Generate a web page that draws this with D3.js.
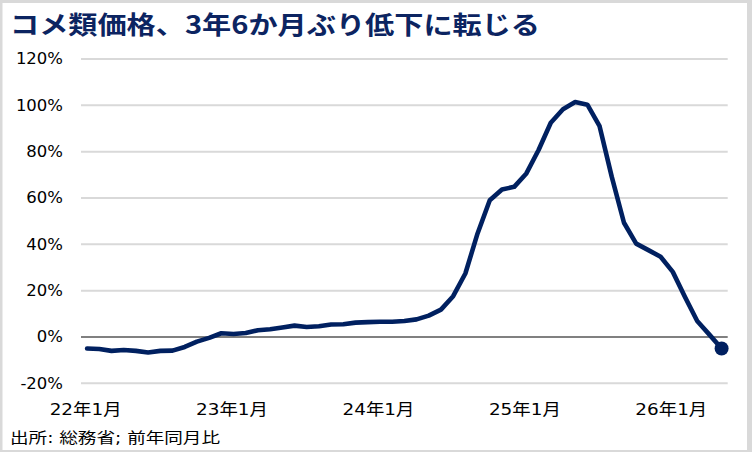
<!DOCTYPE html>
<html><head><meta charset="utf-8">
<script src="https://cdn.jsdelivr.net/npm/d3@7"></script>
<style>body{margin:0;background:#fff}svg{display:block}</style>
</head><body>
<svg id="c" width="752" height="452"></svg>
<script>
const titleText = "コメ類価格、3年6か月ぶり低下に転じる";
const sourceText = "出所: 総務省; 前年同月比";
const categories = [
 "22年1月","22年2月","22年3月","22年4月","22年5月","22年6月","22年7月","22年8月","22年9月","22年10月","22年11月","22年12月",
 "23年1月","23年2月","23年3月","23年4月","23年5月","23年6月","23年7月","23年8月","23年9月","23年10月","23年11月","23年12月",
 "24年1月","24年2月","24年3月","24年4月","24年5月","24年6月","24年7月","24年8月","24年9月","24年10月","24年11月","24年12月",
 "25年1月","25年2月","25年3月","25年4月","25年5月","25年6月","25年7月","25年8月","25年9月","25年10月","25年11月","25年12月",
 "26年1月","26年2月","26年3月","26年4月","26年5月"];
const values = [
 -5.0,-5.2,-6.0,-5.6,-6.0,-6.7,-6.0,-5.9,-4.3,-2.0,-0.4,1.6,
 1.3,1.7,2.9,3.3,4.1,4.9,4.3,4.6,5.4,5.5,6.2,6.4,
 6.6,6.6,6.9,7.6,9.2,11.8,17.6,27.4,44.7,59.0,63.7,64.8,
 70.6,80.7,92.5,98.3,101.4,100.3,91.0,69.1,49.3,40.3,37.5,34.6,
 28.1,17.3,6.9,1.0,-5.0];
const yTicks = [-20,0,20,40,60,80,100,120];
const xTickLabels = ["22年1月","23年1月","24年1月","25年1月","26年1月"];

const svg = d3.select("#c");
// frame
svg.append("rect").attr("x",0).attr("y",0).attr("width",752).attr("height",452).attr("fill","#d9d9d9");
svg.append("rect").attr("x",2.5).attr("y",3).attr("width",744.5).attr("height",447).attr("fill","#fff");

const x = d3.scaleBand().domain(categories).range([81,727.7]);
const y = d3.scaleLinear().domain([-20,120]).range([383.3,59]);
const cx = d => x(d) + x.bandwidth()/2;

// gridlines
svg.append("g").selectAll("line").data(yTicks).join("line")
  .attr("x1",81).attr("x2",727.7)
  .attr("y1",d=>y(d)).attr("y2",d=>y(d))
  .attr("stroke",d=>d===0?"#808080":"#d9d9d9").attr("stroke-width",2);

// y labels
const yl = svg.append("g").selectAll("g").data(yTicks).join("g")
  .attr("transform",d=>`translate(63,${y(d)}) scale(1.1,1)`);
yl.append("text").attr("text-anchor","end").attr("dy","0.36em")
  .style("font-family","'DejaVu Sans', sans-serif").style("font-size","15px").attr("fill","#000")
  .text(d=>d+"%");

// x labels
const xl = svg.append("g").selectAll("g").data(xTickLabels).join("g")
  .attr("transform",d=>`translate(${cx(d)-1.5},415) scale(1.15,1)`);
xl.append("text").attr("text-anchor","middle")
  .style("font-family","'DejaVu Sans','Noto Sans CJK JP', sans-serif").style("font-size","16px").attr("fill","#000")
  .text(d=>d);

// line
const line = d3.line().x((d,i)=>cx(categories[i])).y(d=>y(d));
svg.append("path").datum(values).attr("d",line)
  .attr("fill","none").attr("stroke","#002060").attr("stroke-width",4.6)
  .attr("stroke-linejoin","round").attr("stroke-linecap","round");
svg.append("circle").attr("cx",cx(categories[categories.length-1])).attr("cy",y(values[values.length-1]))
  .attr("r",7).attr("fill","#002060");

// title
svg.append("text").attr("x",10).attr("y",34)
  .style("font-family","'Noto Sans CJK JP', sans-serif").style("font-size","25px").style("font-weight","bold")
  .attr("fill","#0c2461").attr("textLength",530).attr("lengthAdjust","spacingAndGlyphs").text(titleText);

// source
svg.append("text").attr("x",10).attr("y",443)
  .style("font-family","'DejaVu Sans','Noto Sans CJK JP', sans-serif").style("font-size","15px")
  .attr("fill","#000").attr("textLength",210).attr("lengthAdjust","spacingAndGlyphs").text(sourceText);
</script>
</body></html>
